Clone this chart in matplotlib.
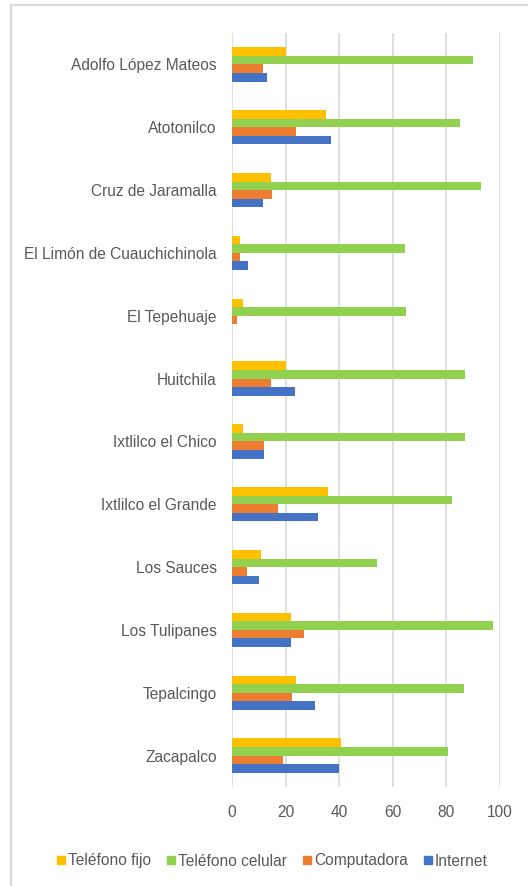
import numpy as np
import matplotlib
matplotlib.use("Agg")
import matplotlib.pyplot as plt
from matplotlib.lines import Line2D
from matplotlib.patches import Rectangle

# localities and percentages of homes with each service
localidades = ["Adolfo López Mateos", "Atotonilco", "Cruz de Jaramalla",
               "El Limón de Cuauchichinola", "El Tepehuaje", "Huitchila",
               "Ixtlilco el Chico", "Ixtlilco el Grande", "Los Sauces",
               "Los Tulipanes", "Tepalcingo", "Zacapalco"]
telefono_fijo = [20, 35, 14.5, 3, 4, 20, 4, 36, 11, 22, 24, 40.5]
telefono_celular = [90, 85, 93, 64.5, 65, 87, 87, 82, 54, 97.5, 86.5, 80.5]
computadora = [11.5, 24, 15, 3, 2, 14.5, 12, 17, 5.5, 27, 22.5, 19]
internet = [13, 37, 11.5, 6, 0, 23.5, 12, 32, 10, 22, 31, 40]

series = ["Teléfono fijo", "Teléfono celular", "Computadora", "Internet"]
colores = ["#FFC000", "#92D050", "#ED7D31", "#4472C4"]
valores = [telefono_fijo, telefono_celular, computadora, internet]

plt.rcParams['font.family'] = ['Liberation Sans', 'DejaVu Sans']
gris = "#595959"

fig = plt.figure(figsize=(5.28, 8.86), dpi=100)
ax = fig.add_axes([232/528, 1-787/886, (500-232)/528, (787-33)/886])

y = np.arange(len(localidades))
h = 0.136
for i, (vals, col) in enumerate(zip(valores, colores)):
    ax.barh(y + (i - 1.5) * h, vals, height=h, color=col, zorder=3)

ax.set_xlim(0, 100)
ax.set_xticks([0, 20, 40, 60, 80, 100])
ax.set_ylim(len(localidades) - 0.5, -0.5)
ax.set_yticks(y)
ax.set_yticklabels(localidades)
ax.tick_params(axis='both', length=0, colors=gris, labelsize=11.2)
ax.tick_params(axis='y', pad=11)
ax.tick_params(axis='x', pad=13)
ax.grid(axis='x', color="#D9D9D9", linewidth=1.2, zorder=0)
for s in ax.spines.values():
    s.set_visible(False)

handles = [Line2D([], [], marker='s', linestyle='none', markersize=6,
                  markerfacecolor=c, markeredgecolor=c) for c in colores]
fig.legend(handles, series, loc='center', bbox_to_anchor=(0.515, 1-861/886),
           ncol=4, frameon=False, fontsize=11.2, labelcolor=gris,
           handlelength=0.6, handletextpad=0.15, columnspacing=1.0)

# chart border (cropped on the right and bottom)
fig.patches.append(Rectangle((11/528, -0.1), 1.2, 1-5/886 + 0.1,
                             transform=fig.transFigure, fill=False,
                             edgecolor="#D9D9D9", linewidth=1.5))

fig.savefig("out.png", dpi=100)
